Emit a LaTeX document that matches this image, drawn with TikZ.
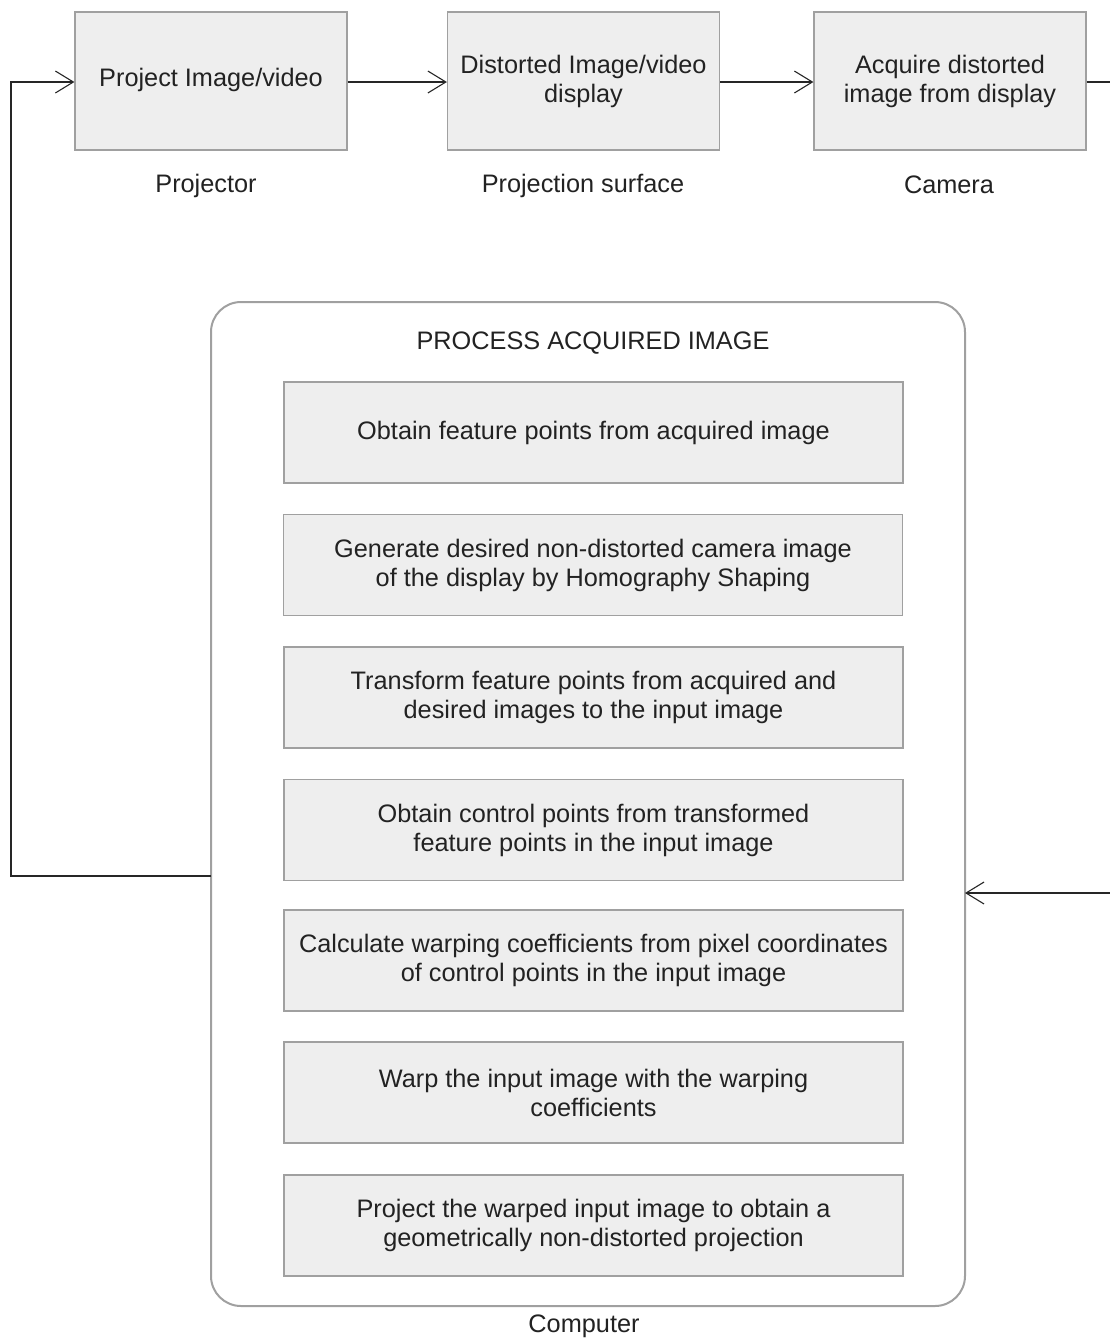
\documentclass[tikz,border=0pt]{standalone}
\usepackage{fontspec}
\setmainfont{Liberation Sans}
\usetikzlibrary{arrows.meta}
\definecolor{boxfill}{HTML}{EEEEEE}
\definecolor{boxline}{HTML}{A0A0A0}
\definecolor{txt}{HTML}{222222}
\begin{document}
\begin{tikzpicture}[x=1pt,y=-1pt,
  every node/.style={font=\fontsize{25.3}{29}\selectfont, text=txt},
  topbox/.style={draw=boxline, fill=boxfill, line width=1.2pt, minimum width=272pt, minimum height=138pt, align=center, inner sep=0pt},
  stepbox/.style={draw=boxline, fill=boxfill, line width=1.2pt, minimum width=619pt, minimum height=101pt, align=center, inner sep=0pt},
  lbl/.style={inner sep=0pt},
  conn/.style={draw=black!85, line width=1.3pt},
  tip/.style={-{Straight Barb[length=18pt,width=22pt,line width=1.1pt]}}
]
\useasboundingbox (0,0) rectangle (1110,1339);

% top row (boxes)
\node[topbox] (b1) at (211,81) {};
\node[topbox] (b2) at (583.5,81) {};
\node[topbox] (b3) at (950,81) {};
% box texts sit slightly above the box centre
\node[lbl, align=center] (t1) at (b1.center) [yshift=1pt] {Project Image/video};
\node[lbl, align=center] (t2) at (b2.center) [yshift=0pt] {Distorted Image/video\\display};
\node[lbl, align=center] (t3) at (b3.center) [yshift=0pt] {Acquire distorted\\image from display};

\node[lbl] (l1) at (206,186) {Projector};
\node[lbl] (l2) at (583,186) {Projection surface};
\node[lbl] (l3) at (949,185) {Camera};

% container
\node[draw=boxline, line width=2pt, rounded corners=30pt, minimum width=754pt, minimum height=1004pt, inner sep=0pt] (cont) at (588,804) {};
\node[lbl] (title) at (593,343) {PROCESS ACQUIRED IMAGE};
\node[lbl] (comp) at (584,1326) {Computer};

% steps
\node[stepbox] (s1) at (593.5,432.5) {Obtain feature points from acquired image};
\node[stepbox] (s2) at (593,565) {Generate desired non-distorted camera image\\of the display by Homography Shaping};
\node[stepbox] (s3) at (593.5,697.5) {Transform feature points from acquired and\\desired images to the input image};
\node[stepbox] (s4) at (593.5,830) {Obtain control points from transformed\\feature points in the input image};
\node[stepbox] (s5) at (593.5,960.5) {Calculate warping coefficients from pixel coordinates\\of control points in the input image};
\node[stepbox] (s6) at (593.5,1092.5) {Warp the input image with the warping\\coefficients};
\node[stepbox] (s7) at (593.5,1225.5) {Project the warped input image to obtain a\\geometrically non-distorted projection};

% connectors
\coordinate (cL) at (211,876);
\coordinate (cornerLB) at (11,876);
\coordinate (cornerLT) at (11,82);
\coordinate (cR) at (965,893);
\coordinate (cornerRT) at (1116,82);
\coordinate (cornerRB) at (1116,893);

\draw[conn,tip] (b1.east |- 0,82) -- (b2.west |- 0,82);
\draw[conn,tip] (b2.east |- 0,82) -- (b3.west |- 0,82);
\draw[conn,tip] (b3.east |- 0,82) -- (cornerRT) -- (cornerRB) -- (cR);
\draw[conn,tip] (cL) -- (cornerLB) -- (cornerLT) -- (b1.west |- 0,82);
\end{tikzpicture}
\end{document}
